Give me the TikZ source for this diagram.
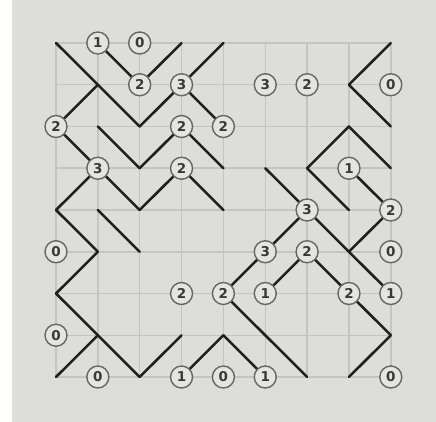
\documentclass[tikz,border=0pt]{standalone}
\usepackage{fontspec}
\setmainfont{DejaVu Sans}
\definecolor{bg}{RGB}{221,221,217}
\definecolor{gridgray}{RGB}{196,196,192}
\definecolor{cluefill}{RGB}{228,228,224}
\begin{document}
\begin{tikzpicture}[x=1pt,y=-1pt,
  gridline/.style={draw=gridgray,line width=1.5pt},
  slant/.style={draw=black!88,line width=2.5pt,line cap=round},
  clue/.style={circle,draw=black!60,line width=1.4pt,fill=cluefill,minimum size=22pt,inner sep=0pt,font=\fontsize{13.5}{14}\selectfont\bfseries,text=black!78}]
\useasboundingbox (0,0) rectangle (436,422);
\fill[white] (0,0) rectangle (436,422);
\fill[bg] (12,0) rectangle (436,422);
\foreach \i in {0,...,8}{
  \foreach \j in {0,...,8}{
    \coordinate (v-\i-\j) at ({56+41.85*\i},{43+41.75*\j});
  }
}
\foreach \i in {0,...,8}{
  \draw[gridline] (v-\i-0) -- (v-\i-8);
  \draw[gridline] (v-0-\i) -- (v-8-\i);
}
% backslash cells
\foreach \c/\r in {0/0,1/0,1/1,3/1,7/1,0/2,1/2,3/2,7/2,1/3,3/3,5/3,6/3,7/3,0/4,1/4,6/4,6/5,7/5,0/6,4/6,7/6,1/7,4/7,5/7}{
  \pgfmathtruncatemacro\cc{\c+1}
  \pgfmathtruncatemacro\rr{\r+1}
  \draw[slant] (v-\c-\r) -- (v-\cc-\rr);
}
% slash cells
\foreach \c/\r in {2/0,3/0,7/0,0/1,2/1,2/2,6/2,0/3,2/3,5/4,7/4,0/5,4/5,5/5,0/7,2/7,3/7,7/7}{
  \pgfmathtruncatemacro\cc{\c+1}
  \pgfmathtruncatemacro\rr{\r+1}
  \draw[slant] (v-\cc-\r) -- (v-\c-\rr);
}
% clues
\foreach \c/\r/\n in {1/0/1,2/0/0,
  2/1/2,3/1/3,5/1/3,6/1/2,8/1/0,
  0/2/2,3/2/2,4/2/2,
  1/3/3,3/3/2,7/3/1,
  6/4/3,8/4/2,
  0/5/0,5/5/3,6/5/2,8/5/0,
  3/6/2,4/6/2,5/6/1,7/6/2,8/6/1,
  0/7/0,
  1/8/0,3/8/1,4/8/0,5/8/1,8/8/0}{
  \node[clue] (c-\c-\r) at (v-\c-\r) {\n};
}
\end{tikzpicture}
\end{document}
